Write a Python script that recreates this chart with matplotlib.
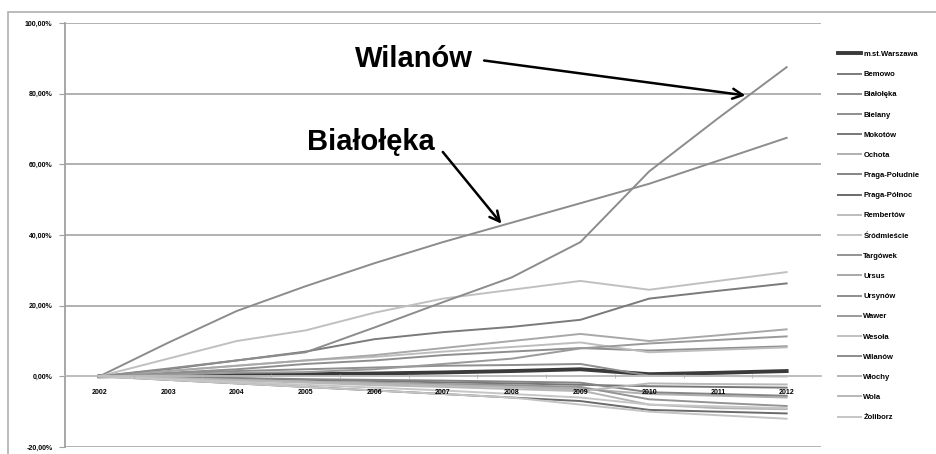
import matplotlib
matplotlib.use("Agg")
import matplotlib.pyplot as plt
from matplotlib.patches import Rectangle
from matplotlib.ticker import FixedLocator, FuncFormatter

plt.rcParams['font.family'] = ['Liberation Sans', 'DejaVu Sans']
plt.rcParams['font.weight'] = 'bold'

years = list(range(2002, 2013))
yticks = [-20, 0, 20, 40, 60, 80, 100]

# change vs 2002, in percent
warszawa     = [0, 0.2, 0.4, 0.6, 0.8, 1.1, 1.5, 2.0, 0.6, 1.0, 1.5]
bemowo       = [0, 2.0, 4.5, 7.0, 10.5, 12.5, 14.0, 16.0, 22.0, 24.2, 26.3]
bialoleka    = [0, 9.5, 18.5, 25.5, 32.0, 38.0, 43.5, 49.0, 54.5, 61.0, 67.5]
bielany      = [0, 1.0, 2.0, 3.5, 4.5, 6.0, 7.0, 8.0, 7.3, 7.9, 8.5]
mokotow      = [0, -0.3, -0.6, -1.0, -1.3, -1.7, -2.0, -2.4, -2.8, -3.0, -3.2]
ochota       = [0, -0.5, -1.0, -1.5, -2.0, -2.5, -3.0, -3.5, -5.0, -5.5, -6.0]
praga_pld    = [0, -0.3, -0.5, -0.8, -1.0, -1.2, -1.5, -1.8, -4.5, -5.0, -5.5]
praga_pln    = [0, -1.0, -2.0, -3.0, -4.0, -5.0, -6.0, -7.0, -9.5, -10.0, -10.5]
rembertow    = [0, 1.5, 3.0, 4.5, 5.5, 7.0, 8.3, 9.6, 6.8, 7.5, 8.2]
srodmiescie  = [0, -1.0, -2.0, -3.0, -4.0, -5.0, -6.0, -8.0, -10.0, -11.0, -12.0]
targowek     = [0, -0.5, -1.0, -1.5, -1.8, -2.2, -2.5, -3.0, -6.5, -7.5, -8.4]
ursus        = [0, 1.5, 3.0, 4.5, 6.0, 8.0, 10.0, 12.0, 10.0, 11.6, 13.3]
ursynow      = [0, 0.8, 1.5, 2.0, 2.5, 3.0, 3.2, 3.5, 0.2, 0.1, 0.0]
wawer        = [0, 0.5, 1.0, 1.2, 2.0, 3.5, 5.0, 7.9, 9.3, 10.3, 11.3]
wesola       = [0, 5.0, 10.0, 13.0, 18.0, 22.0, 24.5, 27.0, 24.5, 27.0, 29.5]
wilanow      = [0, 2.2, 4.5, 6.8, 13.8, 21.0, 28.0, 38.0, 58.0, 73.0, 87.5]
wlochy       = [0, -0.5, -1.0, -1.5, -2.0, -2.5, -3.0, -4.0, -8.0, -9.0, -9.3]
wola         = [0, -0.5, -1.2, -1.8, -2.5, -3.0, -3.6, -4.2, -2.0, -2.2, -2.3]
zoliborz     = [0, -0.8, -1.6, -2.4, -3.2, -4.0, -5.0, -6.0, -8.0, -8.5, -9.0]

names = ['m.st.Warszawa', 'Bemowo', 'Białołęka', 'Bielany', 'Mokotów', 'Ochota',
         'Praga-Południe', 'Praga-Północ', 'Rembertów', 'Śródmieście', 'Targówek',
         'Ursus', 'Ursynów', 'Wawer', 'Wesoła', 'Wilanów', 'Włochy', 'Wola', 'Żoliborz']
series = [warszawa, bemowo, bialoleka, bielany, mokotow, ochota, praga_pld, praga_pln,
          rembertow, srodmiescie, targowek, ursus, ursynow, wawer, wesola, wilanow,
          wlochy, wola, zoliborz]
greys = ['#3a3a3a', '#7a7a7a', '#8c8c8c', '#8e8e8e', '#777777', '#b0b0b0',
         '#858585', '#6a6a6a', '#bdbdbd', '#c4c4c4', '#949494', '#a8a8a8',
         '#8e8e8e', '#9a9a9a', '#c0c0c0', '#8c8c8c', '#b4b4b4', '#b8b8b8', '#c6c6c6']

fig = plt.figure(figsize=(9.37, 4.54), dpi=100)
ax = fig.add_axes([65/937, 1-447/454, (821-65)/937, (447-23)/454])

# gridlines under the series, axis and tick labels above them
for t in yticks:
    ax.axhline(t, color='#ababab', lw=1.3, zorder=0.5)

for nm, v, c in zip(names, series, greys):
    ax.plot(years, v, color=c, lw=2.8 if nm == 'm.st.Warszawa' else 1.4, label=nm)
ax.set_axisbelow(False)

ax.set_xlim(2001.5, 2012.5); ax.set_ylim(-20, 100)
ax.yaxis.set_major_locator(FixedLocator(yticks))
ax.yaxis.set_major_formatter(FuncFormatter(lambda v, p: f"{v:.2f}%".replace('.', ',')))

ax.set_xticks(years)
ax.set_xticks([y + 0.5 for y in years[:-1]], minor=True)
ax.tick_params(axis='x', which='major', length=0, pad=9, labelsize=5)
ax.tick_params(axis='x', which='minor', length=3, color='#b0b0b0', direction='inout')
ax.tick_params(axis='y', length=4, color='#a0a0a0', pad=5, labelsize=5)

for sp in ['top', 'right']: ax.spines[sp].set_visible(False)
ax.spines['bottom'].set_position(('data', 0))
ax.spines['bottom'].set_color('#c0c0c0'); ax.spines['bottom'].set_linewidth(1.3)
ax.spines['left'].set_color('#a0a0a0'); ax.spines['left'].set_linewidth(1.3)

arrow = dict(arrowstyle='->', color='black', lw=1.8, mutation_scale=18, relpos=(1, 0.5), shrinkA=6, shrinkB=0)
ax.annotate('Wilanów', xy=(2011.4, 79.5), xytext=(2006.58, 89.8), fontsize=21,
            ha='center', va='center', arrowprops=arrow)
ax.annotate('Białołęka', xy=(2007.85, 43.2), xytext=(2005.95, 66.3), fontsize=21,
            ha='center', va='center', arrowprops=arrow)

leg = fig.legend(loc='center left', bbox_to_anchor=(835/937, 1-236/454), frameon=False,
                 prop={'size': 5.5, 'weight': 'bold'}, handlelength=3.0, handletextpad=0.3,
                 labelspacing=1.68, borderaxespad=0)

fig.patches.append(Rectangle((8/937, -0.1), 1.2, 1.1 - 12/454, transform=fig.transFigure,
                             fill=False, edgecolor='#b0b0b0', lw=1.2))

fig.savefig("out.png", dpi=100)
